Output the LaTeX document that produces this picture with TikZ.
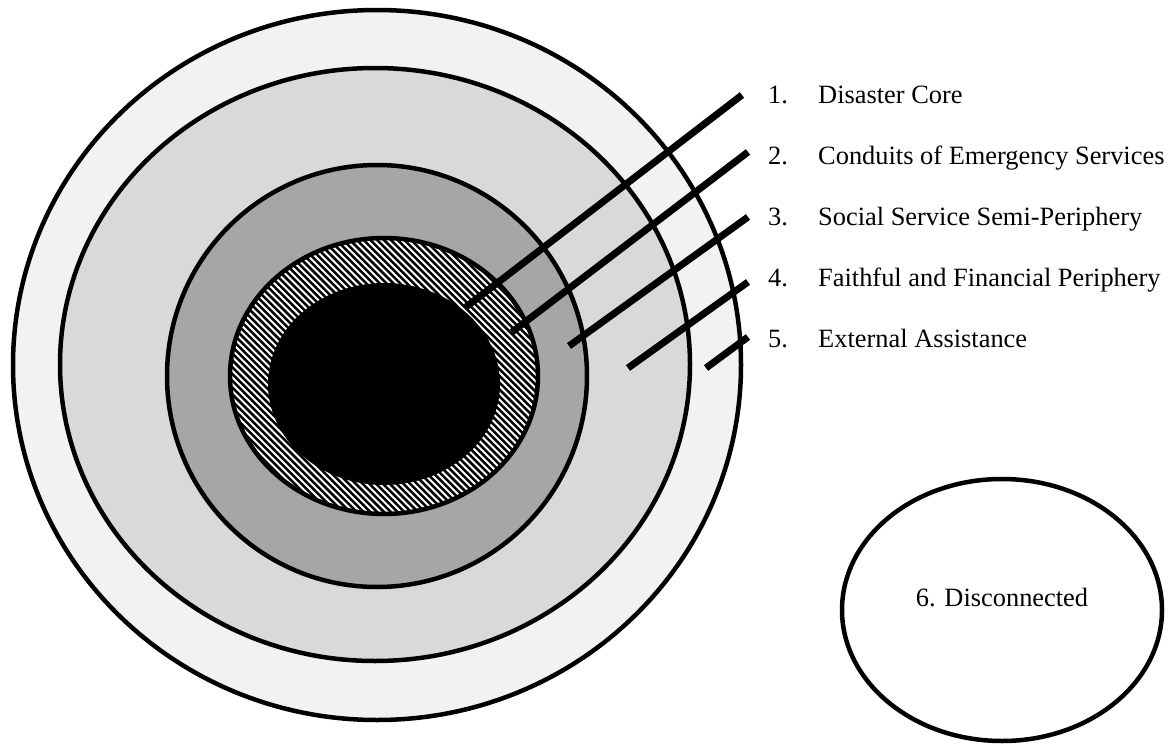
\documentclass[tikz,border=0pt]{standalone}
\usepackage{fontspec}
\setmainfont{Liberation Serif}
\usetikzlibrary{shapes.geometric}
\definecolor{ringA}{HTML}{F2F2F2}
\definecolor{ringB}{HTML}{D9D9D9}
\definecolor{ringC}{HTML}{A6A6A6}
\begin{document}
\begin{tikzpicture}[x=1pt,y=-1pt,
  ring/.style={ellipse, draw=black, line width=4.5pt, inner sep=0pt, outer sep=0pt},
  slash/.style={line width=7pt, line cap=butt},
  lab/.style={anchor=base west, inner sep=0pt, font=\fontsize{26.4}{30}\selectfont}]
\fill[white] (0,0) rectangle (1171,744);
\useasboundingbox (0,0) rectangle (1171,744);
% rings
\node[ring, fill=ringA, minimum width=728pt, minimum height=710pt] (r1) at (377,365) {};
\node[ring, fill=ringB, minimum width=630pt, minimum height=593pt] (r2) at (375,364.5) {};
\node[ring, fill=ringC, minimum width=420pt, minimum height=422pt] (r3) at (377,376) {};
\node[ellipse, fill=white, inner sep=0pt, minimum width=308pt, minimum height=276pt] (r4) at (384,376) {};
\begin{scope}
  \clip (r4.center) ellipse [x radius=154, y radius=138];
  \foreach \k in {-60,...,60}
    \draw[line width=2.5pt] ([shift={(6.8*\k-200,-200)}]r4.center) -- ++(400,400);
\end{scope}
\draw[line width=4.5pt] (r4.center) ellipse [x radius=154, y radius=138];
\node[ellipse, fill=black, inner sep=0pt, minimum width=232pt, minimum height=202pt] (core) at (384,384) {};
% slashes
\coordinate (a1) at (466,307); \coordinate (b1) at (742,95);
\coordinate (a2) at (512,332); \coordinate (b2) at (748,152);
\coordinate (a3) at (569,346); \coordinate (b3) at (748,217);
\coordinate (a4) at (628,368); \coordinate (b4) at (748,282);
\coordinate (a5) at (706,368); \coordinate (b5) at (748,337);
\foreach \i in {1,...,5} \draw[slash] (a\i) -- (b\i);
% labels
\node[lab] (n1) at (768,103) {1.};
\node[lab] (t1) at (818,103) {Disaster Core};
\node[lab] (n2) at (768,164) {2.};
\node[lab] (t2) at (818,164) {Conduits of Emergency Services};
\node[lab] (n3) at (768,225) {3.};
\node[lab] (t3) at (818,225) {Social Service Semi-Periphery};
\node[lab] (n4) at (768,286) {4.};
\node[lab] (t4) at (818,286) {Faithful and Financial Periphery};
\node[lab] (n5) at (768,347) {5.};
\node[lab] (t5) at (818,347) {External Assistance};
% disconnected
\node[ring, minimum width=320pt, minimum height=262pt] (d6) at (1002,610) {};
\node[lab, anchor=base] (t6) at (1002,606) {6. Disconnected};
\end{tikzpicture}
\end{document}
